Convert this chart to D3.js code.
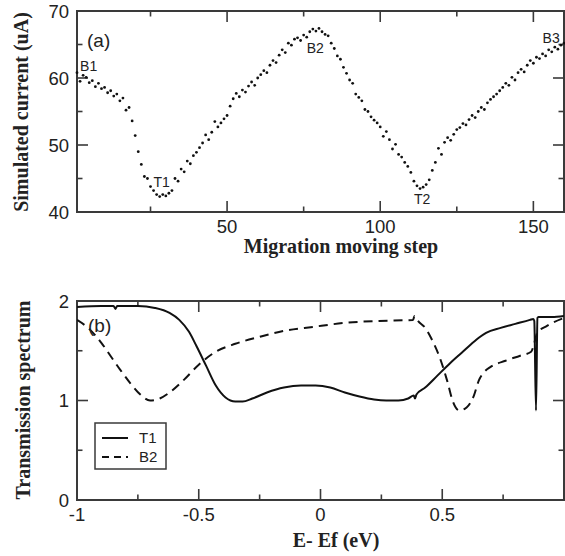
<!DOCTYPE html>
<html><head><meta charset="utf-8">
<script src="https://cdn.jsdelivr.net/npm/d3@7"></script>
<style>html,body{margin:0;padding:0;background:#fff;}svg{display:block;}</style>
</head><body>
<script>
// ---- Panel (a) data: simulated current per migration step (1..160)
const steps = d3.range(1, 161);
const current = [
60.8,59.5,60.4,60.1,59.3,59.6,58.7,59.2,58.4,58.6,
57.8,58.1,57.3,57.6,56.6,57.0,55.2,55.6,53.6,51.4,
49.0,47.1,45.3,45.0,43.8,43.2,42.6,42.3,42.6,42.4,
42.8,43.2,45.0,44.6,46.4,46.0,47.6,47.2,48.4,48.9,
49.6,50.3,51.5,50.8,51.9,53.5,52.7,53.3,53.9,54.4,
55.8,56.9,57.7,57.2,58.2,57.9,58.8,59.4,58.9,60.0,
60.5,61.1,60.8,61.9,62.6,62.3,63.4,64.2,63.8,65.2,
64.9,65.8,66.0,65.6,66.4,66.1,66.9,67.3,67.0,67.4,
66.9,66.5,66.3,65.2,64.4,63.3,62.8,61.6,60.7,59.7,
59.2,57.6,57.1,56.6,55.3,55.0,54.2,53.7,53.3,52.7,
51.3,52.0,50.8,49.4,50.1,48.6,48.2,47.4,46.8,45.9,
44.6,43.9,43.5,43.7,44.1,44.8,46.2,47.4,49.5,48.6,
50.4,51.1,50.7,51.6,52.3,52.6,53.2,53.0,53.8,54.4,
54.1,55.0,55.6,55.3,56.3,56.8,57.2,57.6,58.1,58.6,
59.2,58.9,60.1,59.7,60.8,61.3,60.9,61.9,62.6,62.2,
63.1,62.9,63.6,63.3,64.2,63.9,64.6,64.3,64.9,65.2];
const aXTicks = [50, 100, 150];
const aXMinor = [25, 75, 125];
const aYTicks = [40, 50, 60, 70];
const aYMinor = [45, 55, 65];
const aLabels = [
  {t:"B1", x:2, y:61.0}, {t:"T1", x:26, y:43.8}, {t:"B2", x:76, y:63.7},
  {t:"T2", x:111, y:41.2}, {t:"B3", x:153, y:65.2}];

// ---- Panel (b) data: transmission spectra
const t1E = [-1,-0.9,-0.85,-0.842,-0.835,-0.75,-0.68,-0.62,-0.58,-0.54,-0.51,-0.47,-0.43,-0.39,-0.35,-0.32,-0.28,-0.22,-0.15,-0.08,-0.02,0.04,0.1,0.16,0.22,0.27,0.32,0.36,0.383,0.388,0.394,0.43,0.48,0.53,0.58,0.63,0.65,0.68,0.74,0.8,0.86,0.874,0.878,0.885,0.891,0.895,0.95,1.0];
const t1T = [1.94,1.95,1.95,1.92,1.95,1.95,1.93,1.88,1.81,1.69,1.55,1.35,1.15,1.03,0.99,0.99,1.02,1.08,1.13,1.15,1.15,1.13,1.08,1.04,1.01,1.0,1.0,1.02,1.05,1.02,1.06,1.13,1.25,1.37,1.48,1.59,1.63,1.68,1.73,1.77,1.81,1.82,1.80,0.90,1.83,1.84,1.84,1.85];
const b2E = [-1,-0.95,-0.9,-0.86,-0.82,-0.78,-0.74,-0.70,-0.66,-0.62,-0.56,-0.5,-0.43,-0.35,-0.25,-0.15,-0.03,0.1,0.24,0.38,0.386,0.40,0.43,0.46,0.49,0.52,0.545,0.57,0.60,0.63,0.65,0.67,0.70,0.76,0.82,0.865,0.875,0.89,0.93,1.0];
const b2T = [1.81,1.72,1.58,1.44,1.30,1.17,1.06,1.0,1.02,1.08,1.21,1.36,1.49,1.57,1.64,1.70,1.74,1.78,1.80,1.81,1.85,1.80,1.73,1.60,1.43,1.20,0.98,0.90,0.93,1.05,1.2,1.28,1.34,1.40,1.45,1.49,1.55,1.68,1.75,1.83];
const bXTicks = [-1, -0.5, 0, 0.5];
const bXMinor = [-0.75, -0.25, 0.25, 0.75];
const bYTicks = [0, 1, 2];
const bYMinor = [0.5, 1.5];
const seriesNames = ["T1", "B2"];

const W = 565, H = 556;
const svg = d3.select("body").append("svg").attr("width", W).attr("height", H);
const frameColor = "#3a3a3a";
const tickFont = "Liberation Sans, Arial, sans-serif";
const titleFont = "Liberation Serif, Times New Roman, serif";

function panel(x, y, xTicks, xMinor, yTicks, yMinor, fmtX) {
  const [x0, x1] = x.range(), [y0, y1] = y.range(); // y0 bottom
  const g = svg.append("g");
  const ticks = g.append("g").attr("stroke", frameColor).attr("stroke-width", 1.6);
  const maj = 11, min = 5.5;
  xTicks.concat(xMinor).forEach(v => {
    const L = xTicks.includes(v) ? maj : min, px = x(v);
    ticks.append("line").attr("x1", px).attr("x2", px).attr("y1", y0).attr("y2", y0 - L);
    ticks.append("line").attr("x1", px).attr("x2", px).attr("y1", y1).attr("y2", y1 + L);
  });
  yTicks.concat(yMinor).forEach(v => {
    const L = yTicks.includes(v) ? maj : min, py = y(v);
    ticks.append("line").attr("x1", x0).attr("x2", x0 + L).attr("y1", py).attr("y2", py);
    ticks.append("line").attr("x1", x1).attr("x2", x1 - L).attr("y1", py).attr("y2", py);
  });
  g.append("rect").attr("x", x0).attr("y", y1).attr("width", x1 - x0).attr("height", y0 - y1)
    .attr("fill", "none").attr("stroke", frameColor).attr("stroke-width", 2);
  xTicks.forEach(v => {
    g.append("text").attr("x", x(v)).attr("y", y0 + 21).attr("text-anchor", "middle")
      .attr("font-family", tickFont).attr("font-size", 18.5).attr("fill", "#222").text(fmtX(v));
  });
  yTicks.forEach(v => {
    g.append("text").attr("x", x0 - 8).attr("y", y(v)).attr("dy", "0.36em").attr("text-anchor", "end")
      .attr("font-family", tickFont).attr("font-size", 18.5).attr("fill", "#222").text(v);
  });
  return g;
}

// ---- Panel (a)
const xa = d3.scaleLinear().domain([1, 160]).range([77, 564]);
const ya = d3.scaleLinear().domain([40, 70]).range([212, 11]);
panel(xa, ya, aXTicks, aXMinor, aYTicks, aYMinor, d => d);
svg.append("g").selectAll("circle").data(steps).join("circle")
  .attr("cx", (d) => xa(d)).attr("cy", (d, i) => ya(current[i])).attr("r", 1.4).attr("fill", "#111");
svg.append("text").attr("x", 87).attr("y", 47).attr("font-family", tickFont).attr("font-size", 19)
  .attr("fill", "#222").text("(a)");
aLabels.forEach(l => {
  svg.append("text").attr("x", xa(l.x)).attr("y", ya(l.y)).attr("font-family", tickFont)
    .attr("font-size", 14).attr("fill", "#222").text(l.t);
});
svg.append("text").attr("x", 341).attr("y", 253).attr("text-anchor", "middle")
  .attr("font-family", titleFont).attr("font-weight", "bold").attr("font-size", 20).attr("fill", "#222")
  .text("Migration moving step");
svg.append("text").attr("transform", "translate(28,112) rotate(-90)").attr("text-anchor", "middle")
  .attr("font-family", titleFont).attr("font-weight", "bold").attr("font-size", 20).attr("fill", "#222")
  .text("Simulated current (uA)");

// ---- Panel (b)
const xb = d3.scaleLinear().domain([-1, 1]).range([77, 564]);
const yb = d3.scaleLinear().domain([0, 2]).range([500, 301]);
panel(xb, yb, bXTicks, bXMinor, bYTicks, bYMinor, d => d);
const line = d3.line().x(d => xb(d[0])).y(d => yb(d[1])).curve(d3.curveMonotoneX);
svg.append("clipPath").attr("id", "cb").append("rect")
  .attr("x", 77).attr("y", 301).attr("width", 487).attr("height", 199);
const lg = svg.append("g").attr("clip-path", "url(#cb)");
lg.append("path").datum(t1E.map((e, i) => [e, t1T[i]])).attr("d", line)
  .attr("fill", "none").attr("stroke", "#111").attr("stroke-width", 2);
lg.append("path").datum(b2E.map((e, i) => [e, b2T[i]])).attr("d", line)
  .attr("fill", "none").attr("stroke", "#111").attr("stroke-width", 2).attr("stroke-dasharray", "9,6");
svg.append("text").attr("x", 88).attr("y", 332).attr("font-family", tickFont).attr("font-size", 19)
  .attr("fill", "#222").text("(b)");
// legend
const leg = svg.append("g");
leg.append("rect").attr("x", 95).attr("y", 423).attr("width", 71).attr("height", 46)
  .attr("fill", "#fff").attr("stroke", frameColor).attr("stroke-width", 1.5);
seriesNames.forEach((n, i) => {
  const yy = 438 + i * 19;
  leg.append("line").attr("x1", 102).attr("x2", 128).attr("y1", yy).attr("y2", yy)
    .attr("stroke", "#111").attr("stroke-width", 2).attr("stroke-dasharray", i ? "7,5" : null);
  leg.append("text").attr("x", 139).attr("y", yy).attr("dy", "0.36em").attr("font-family", tickFont)
    .attr("font-size", 15).attr("fill", "#222").text(n);
});
svg.append("text").attr("x", 336).attr("y", 547).attr("text-anchor", "middle")
  .attr("font-family", titleFont).attr("font-weight", "bold").attr("font-size", 20).attr("fill", "#222")
  .text("E- Ef (eV)");
svg.append("text").attr("transform", "translate(30,400) rotate(-90)").attr("text-anchor", "middle")
  .attr("font-family", titleFont).attr("font-weight", "bold").attr("font-size", 20).attr("fill", "#222")
  .text("Transmission spectrum");
</script>
</body></html>
